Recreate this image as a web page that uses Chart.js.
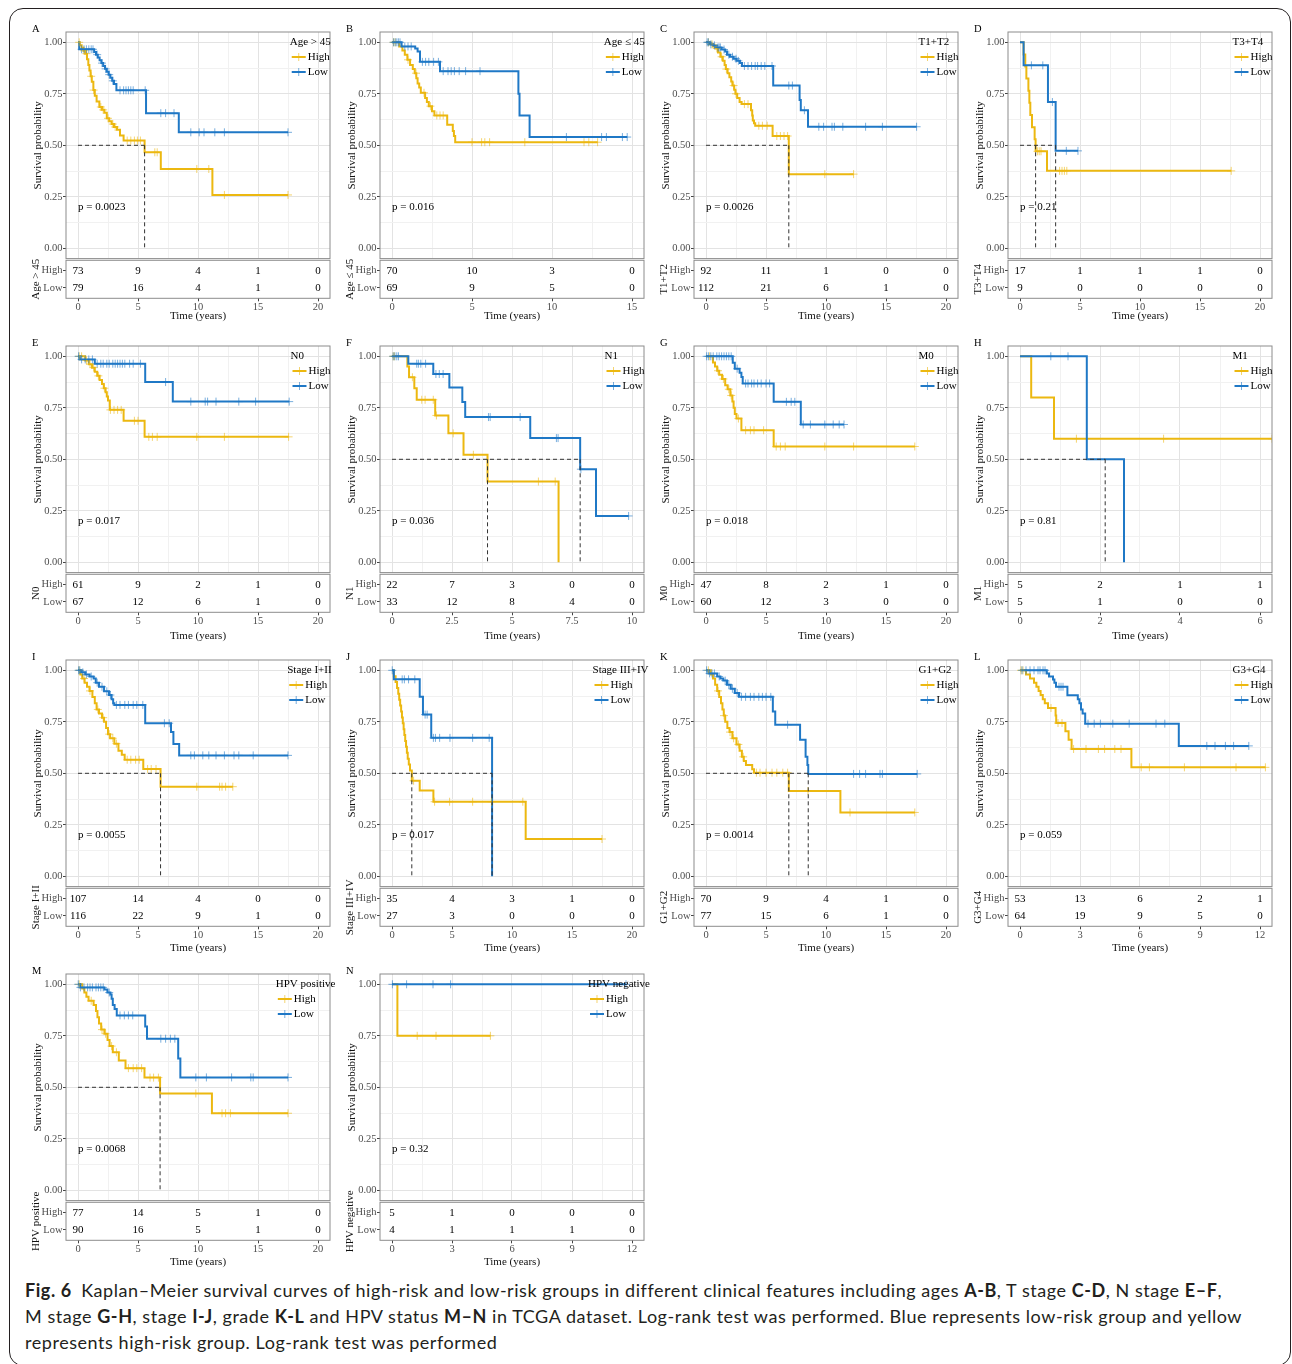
<!DOCTYPE html>
<html>
<head>
<meta charset="utf-8">
<script src="https://cdn.jsdelivr.net/npm/chart.js@4.4.1/dist/chart.umd.min.js"></script>
<style>
  html, body { margin: 0; padding: 0; background: #fff; width: 1292px; height: 1364px; overflow: hidden; }
  #frame { position: absolute; left: 9px; top: 8px; width: 1282px; height: 1358px; border: 1.3px solid #231f20; border-radius: 14px; box-sizing: border-box; }
  canvas { position: absolute; }
  .cap { position: absolute; left: 25px; height: 26px; line-height: 26px; font-family: Lato, 'Open Sans', sans-serif; font-size: 18px; color: #231f20; white-space: nowrap; }
  .cap b { font-weight: 700; }
</style>
</head>
<body>
<div id="frame"></div>
<div id="charts"></div>
<div class="cap" id="cap1" style="top:1277px"><b>Fig. 6</b>&ensp;Kaplan–Meier survival curves of high-risk and low-risk groups in different clinical features including ages <b>A-B</b>, T stage <b>C-D</b>, N stage <b>E–F</b>,</div>
<div class="cap" id="cap2" style="top:1303px">M stage <b>G-H</b>, stage <b>I-J</b>, grade <b>K-L</b> and HPV status <b>M–N</b> in TCGA dataset. Log-rank test was performed. Blue represents low-risk group and yellow</div>
<div class="cap" id="cap3" style="top:1329px">represents high-risk group. Log-rank test was performed</div>

<script>
// ---------- risk groups ----------
const GROUP_NAMES = ['High', 'Low'];

// ---------- A: Age > 45 ----------
const A_group = 'Age > 45';
const A_pval = 'p = 0.0023';
const A_breaks = [0, 5, 10, 15, 20];
const A_risk_high = [73, 9, 4, 1, 0];
const A_risk_low = [79, 16, 4, 1, 0];
const A_high_t = [0, 0.15, 0.3, 0.45, 0.6, 0.75, 0.86, 0.95, 1.05, 1.15, 1.28, 1.4, 1.55, 1.78, 2.0, 2.2, 2.4, 2.6, 2.8, 3.0, 3.25, 3.5, 3.8, 5.55, 6.9, 11.2];
const A_high_s = [1, 0.986, 0.973, 0.959, 0.945, 0.918, 0.890, 0.863, 0.835, 0.808, 0.768, 0.740, 0.713, 0.686, 0.672, 0.658, 0.631, 0.617, 0.603, 0.589, 0.575, 0.547, 0.523, 0.466, 0.385, 0.259];
const A_high_c = [0.1, 0.5, 0.7, 1.1, 1.3, 1.9, 2.1, 2.5, 2.9, 3.1, 4.1, 4.4, 4.7, 4.95, 5.2, 6.4, 6.6, 9.9, 10.9, 12.2, 17.5];
const A_low_t = [0, 0.1, 1.35, 1.5, 1.65, 1.8, 1.95, 2.1, 2.25, 2.4, 2.55, 2.7, 2.85, 3.0, 3.2, 5.67, 8.4];
const A_low_s = [1, 0.966, 0.953, 0.94, 0.926, 0.913, 0.899, 0.885, 0.871, 0.857, 0.843, 0.828, 0.813, 0.798, 0.767, 0.656, 0.563];
const A_low_c = [0.3, 0.5, 0.7, 0.9, 1.1, 1.25, 1.6, 2.0, 2.3, 2.6, 2.9, 3.5, 3.8, 4.0, 4.2, 4.4, 4.6, 5.6, 6.9, 7.3, 8.0, 9.4, 10.1, 10.5, 11.4, 12.2, 17.5];
const A_medians = [5.55];

// ---------- B: Age <= 45 ----------
const B_group = 'Age ≤ 45';
const B_pval = 'p = 0.016';
const B_breaks = [0, 5, 10, 15];
const B_risk_high = [70, 10, 3, 0];
const B_risk_low = [69, 9, 5, 0];
const B_high_t = [0, 0.45, 0.65, 0.8, 0.96, 1.13, 1.3, 1.42, 1.52, 1.6, 1.7, 1.8, 2.07, 2.18, 2.3, 2.5, 2.65, 3.45, 3.8, 3.87, 3.95];
const B_high_s = [1, 0.98, 0.96, 0.94, 0.915, 0.89, 0.87, 0.85, 0.825, 0.80, 0.78, 0.755, 0.73, 0.71, 0.69, 0.665, 0.645, 0.60, 0.57, 0.545, 0.515];
const B_high_c = [0.1, 0.2, 1.0, 1.5, 2.0, 2.4, 2.8, 3.0, 3.2, 5.0, 5.6, 5.8, 6.1, 8.3, 12.0, 12.3, 12.85];
const B_low_t = [0, 0.6, 1.45, 1.6, 1.75, 3.0, 7.9, 7.97, 8.6];
const B_low_s = [1, 0.98, 0.97, 0.955, 0.905, 0.86, 0.75, 0.645, 0.54];
const B_low_c = [0.1, 0.2, 0.3, 0.4, 0.5, 0.8, 1.0, 1.2, 1.9, 2.1, 2.3, 2.6, 2.9, 3.2, 3.5, 3.7, 3.9, 4.2, 4.6, 5.5, 10.9, 13.1, 13.4, 14.4, 14.7];
const B_medians = [];

// ---------- C: T1+T2 ----------
const C_group = 'T1+T2';
const C_pval = 'p = 0.0026';
const C_breaks = [0, 5, 10, 15, 20];
const C_risk_high = [92, 11, 1, 0, 0];
const C_risk_low = [112, 21, 6, 1, 0];
const C_high_t = [0, 0.3, 0.6, 0.8, 1.0, 1.2, 1.4, 1.55, 1.65, 1.8, 1.95, 2.1, 2.2, 2.35, 2.45, 2.6, 2.8, 2.97, 3.75, 3.85, 3.9, 4.0, 4.1, 5.55, 6.9];
const C_high_s = [1, 0.99, 0.98, 0.97, 0.95, 0.93, 0.91, 0.89, 0.87, 0.85, 0.83, 0.81, 0.79, 0.77, 0.75, 0.73, 0.71, 0.70, 0.67, 0.645, 0.62, 0.607, 0.595, 0.545, 0.36];
const C_high_c = [0.2, 0.5, 0.9, 1.3, 1.7, 2.3, 2.5, 3.2, 3.5, 4.4, 4.7, 5.1, 5.9, 6.2, 6.5, 6.8, 9.9, 12.3];
const C_low_t = [0, 0.3, 0.6, 0.9, 1.3, 1.6, 1.75, 2.0, 2.3, 2.55, 2.83, 3.0, 5.6, 7.8, 7.9, 8.5];
const C_low_s = [1, 0.99, 0.985, 0.975, 0.965, 0.955, 0.94, 0.93, 0.92, 0.91, 0.90, 0.885, 0.79, 0.72, 0.67, 0.59];
const C_low_c = [0.1, 0.2, 0.4, 0.7, 1.0, 1.1, 1.2, 1.5, 1.9, 2.2, 2.5, 2.7, 3.2, 3.5, 3.8, 4.1, 4.3, 4.6, 4.9, 5.5, 6.9, 7.2, 8.2, 9.4, 9.8, 10.5, 10.7, 11.4, 13.3, 14.7, 17.55];
const C_medians = [6.9];

// ---------- D: T3+T4 ----------
const D_group = 'T3+T4';
const D_pval = 'p = 0.21';
const D_breaks = [0, 5, 10, 15, 20];
const D_risk_high = [17, 1, 1, 1, 0];
const D_risk_low = [9, 0, 0, 0, 0];
const D_high_t = [0, 0.3, 0.44, 0.53, 0.7, 0.78, 0.86, 1.0, 1.22, 1.3, 2.25];
const D_high_s = [1, 0.941, 0.882, 0.824, 0.765, 0.706, 0.647, 0.588, 0.529, 0.471, 0.376];
const D_high_c = [1.45, 1.6, 1.75, 3.3, 3.5, 3.7, 3.9, 17.6];
const D_low_t = [0, 0.3, 2.33, 2.97];
const D_low_s = [1, 0.888, 0.71, 0.473];
const D_low_c = [0.95, 1.9, 2.7, 3.86, 4.83];
const D_medians = [1.3, 2.97];

// ---------- E: N0 ----------
const E_group = 'N0';
const E_pval = 'p = 0.017';
const E_breaks = [0, 5, 10, 15, 20];
const E_risk_high = [61, 9, 2, 1, 0];
const E_risk_low = [67, 12, 6, 1, 0];
const E_high_t = [0, 0.6, 0.9, 1.17, 1.4, 1.6, 1.8, 2.0, 2.15, 2.3, 2.4, 2.5, 2.65, 3.8, 5.55];
const E_high_s = [1, 0.98, 0.962, 0.945, 0.925, 0.905, 0.885, 0.865, 0.845, 0.825, 0.805, 0.785, 0.74, 0.687, 0.609];
const E_high_c = [0.1, 0.3, 0.7, 1.0, 1.3, 1.7, 2.2, 2.7, 3.0, 3.3, 3.6, 4.7, 5.0, 5.9, 6.2, 6.6, 9.9, 12.2, 17.55];
const E_low_t = [0, 0.15, 1.4, 5.6, 7.9];
const E_low_s = [1, 0.985, 0.964, 0.875, 0.78];
const E_low_c = [0.05, 0.3, 0.6, 0.9, 1.2, 1.6, 1.9, 2.1, 2.4, 2.6, 2.9, 3.1, 3.3, 3.5, 3.7, 3.9, 4.3, 4.6, 5.2, 7.3, 9.4, 10.6, 10.8, 11.5, 13.4, 14.8, 17.6];
const E_medians = [];

// ---------- F: N1 ----------
const F_group = 'N1';
const F_pval = 'p = 0.036';
const F_breaks = [0, 2.5, 5, 7.5, 10];
const F_risk_high = [22, 7, 3, 0, 0];
const F_risk_low = [33, 12, 8, 4, 0];
const F_high_t = [0, 0.64, 0.71, 0.93, 1.03, 1.8, 2.35, 2.98, 3.98, 6.94];
const F_high_s = [1, 0.951, 0.898, 0.845, 0.789, 0.713, 0.626, 0.522, 0.392, 0];
const F_high_c = [0.05, 0.1, 0.85, 1.24, 1.38, 1.72, 1.85, 2.55, 3.39, 6.1, 6.8];
const F_low_t = [0, 0.68, 1.72, 2.39, 2.93, 3.05, 5.76, 7.84, 8.5];
const F_low_s = [1, 0.964, 0.914, 0.848, 0.778, 0.705, 0.603, 0.452, 0.225];
const F_low_c = [0.05, 0.12, 0.2, 0.27, 1.03, 1.1, 1.2, 1.4, 1.83, 1.97, 2.13, 4.02, 4.09, 5.34, 6.85, 6.92, 7.87, 9.86];
const F_medians = [3.98, 7.84];

// ---------- G: M0 ----------
const G_group = 'M0';
const G_pval = 'p = 0.018';
const G_breaks = [0, 5, 10, 15, 20];
const G_risk_high = [47, 8, 2, 1, 0];
const G_risk_low = [60, 12, 3, 0, 0];
const G_high_t = [0, 0.58, 0.75, 0.93, 1.1, 1.34, 1.6, 1.8, 2.03, 2.2, 2.3, 2.4, 2.54, 2.95, 5.64];
const G_high_s = [1, 0.97, 0.95, 0.93, 0.91, 0.89, 0.86, 0.84, 0.81, 0.78, 0.75, 0.72, 0.698, 0.641, 0.562];
const G_high_c = [0.3, 1.0, 1.45, 1.9, 2.1, 2.7, 3.3, 3.7, 4.0, 4.8, 5.85, 6.2, 6.6, 9.9, 12.3, 17.4];
const G_low_t = [0, 2.23, 2.4, 2.8, 2.95, 3.06, 5.64, 7.9];
const G_low_s = [1, 0.969, 0.94, 0.92, 0.90, 0.868, 0.779, 0.669];
const G_low_c = [0.05, 0.2, 0.4, 0.6, 0.9, 1.1, 1.3, 1.5, 1.7, 1.9, 2.1, 2.6, 3.3, 3.5, 3.8, 4.0, 4.3, 4.6, 5.0, 5.3, 6.7, 7.1, 7.4, 8.1, 8.7, 9.9, 10.6, 11.1, 11.5];
const G_medians = [];

// ---------- H: M1 ----------
const H_group = 'M1';
const H_pval = 'p = 0.81';
const H_breaks = [0, 2, 4, 6];
const H_risk_high = [5, 2, 1, 1];
const H_risk_low = [5, 1, 0, 0];
const H_high_t = [0, 0.28, 0.85];
const H_high_s = [1, 0.8, 0.6];
const H_high_c = [1.41, 3.59, 6.3];
const H_low_t = [0, 1.67, 2.6];
const H_low_s = [1, 0.5, 0];
const H_low_c = [0.77, 1.2];
const H_medians = [2.13];

// ---------- I: Stage I+II ----------
const I_group = 'Stage I+II';
const I_pval = 'p = 0.0055';
const I_breaks = [0, 5, 10, 15, 20];
const I_risk_high = [107, 14, 4, 0, 0];
const I_risk_low = [116, 22, 9, 1, 0];
const I_high_t = [0, 0.2, 0.35, 0.55, 0.75, 0.96, 1.2, 1.4, 1.55, 1.75, 2.0, 2.17, 2.34, 2.5, 2.68, 3.03, 3.37, 3.65, 3.89, 5.44, 6.88];
const I_high_s = [1, 0.98, 0.96, 0.94, 0.92, 0.90, 0.87, 0.84, 0.81, 0.79, 0.77, 0.75, 0.72, 0.69, 0.67, 0.644, 0.61, 0.59, 0.566, 0.521, 0.435];
const I_high_c = [0.1, 0.5, 1.0, 1.65, 2.1, 2.6, 2.9, 3.2, 4.1, 4.4, 4.8, 5.1, 5.8, 6.1, 6.5, 9.9, 11.8, 12.0, 12.3, 12.9];
const I_low_t = [0, 0.28, 0.6, 0.96, 1.3, 1.48, 1.75, 2.17, 2.58, 2.8, 2.93, 3.03, 5.6, 7.75, 7.95, 8.43];
const I_low_s = [1, 0.99, 0.98, 0.97, 0.96, 0.94, 0.92, 0.898, 0.88, 0.86, 0.84, 0.832, 0.743, 0.70, 0.642, 0.587];
const I_low_c = [0.05, 0.15, 0.4, 0.7, 1.1, 1.6, 2.0, 2.4, 2.7, 3.2, 3.5, 3.9, 4.2, 4.6, 4.9, 5.4, 7.2, 7.6, 9.4, 9.7, 10.4, 10.9, 11.5, 12.2, 13.0, 13.4, 14.6, 17.5];
const I_medians = [6.88];

// ---------- J: Stage III+IV ----------
const J_group = 'Stage III+IV';
const J_pval = 'p = 0.017';
const J_breaks = [0, 5, 10, 15, 20];
const J_risk_high = [35, 4, 3, 1, 0];
const J_risk_low = [27, 3, 0, 0, 0];
const J_high_t = [0, 0.15, 0.3, 0.42, 0.52, 0.6, 0.68, 0.76, 0.83, 0.9, 0.97, 1.03, 1.1, 1.17, 1.24, 1.31, 1.4, 1.5, 1.65, 2.31, 3.45, 11.14];
const J_high_s = [1, 0.971, 0.943, 0.914, 0.886, 0.857, 0.829, 0.80, 0.771, 0.743, 0.714, 0.686, 0.657, 0.629, 0.60, 0.571, 0.543, 0.514, 0.464, 0.416, 0.362, 0.181];
const J_high_c = [1.8, 3.55, 4.8, 6.72, 8.3, 10.9, 17.5];
const J_low_t = [0, 0.15, 2.31, 2.58, 3.27, 8.34];
const J_low_s = [1, 0.956, 0.871, 0.785, 0.672, 0];
const J_low_c = [0.02, 0.85, 1.03, 1.38, 1.9, 2.76, 2.93, 3.45, 3.62, 3.97, 4.83, 6.72, 8.1];
const J_medians = [1.65, 8.34];

// ---------- K: G1+G2 ----------
const K_group = 'G1+G2';
const K_pval = 'p = 0.0014';
const K_breaks = [0, 5, 10, 15, 20];
const K_risk_high = [70, 9, 4, 1, 0];
const K_risk_low = [77, 15, 6, 1, 0];
const K_high_t = [0, 0.4, 0.58, 0.76, 0.93, 1.1, 1.25, 1.37, 1.48, 1.6, 1.78, 1.96, 2.2, 2.54, 2.8, 2.99, 3.15, 3.33, 3.85, 4.0, 6.9, 11.2];
const K_high_s = [1, 0.98, 0.96, 0.93, 0.90, 0.87, 0.84, 0.81, 0.78, 0.75, 0.72, 0.70, 0.67, 0.64, 0.61, 0.58, 0.56, 0.54, 0.52, 0.503, 0.414, 0.31];
const K_high_c = [0.2, 1.0, 1.5, 2.0, 2.3, 2.7, 3.1, 4.2, 4.5, 5.0, 5.5, 5.9, 6.4, 6.8, 8.5, 12.0, 17.4];
const K_low_t = [0, 0.2, 0.93, 1.2, 1.44, 1.75, 2.06, 2.4, 2.75, 5.57, 5.77, 7.84, 8.3, 8.45, 8.52];
const K_low_s = [1, 0.985, 0.97, 0.96, 0.95, 0.93, 0.91, 0.89, 0.871, 0.80, 0.736, 0.663, 0.58, 0.54, 0.497];
const K_low_c = [0.05, 0.3, 0.5, 0.7, 1.1, 1.6, 1.9, 2.2, 2.6, 2.95, 3.3, 3.7, 4.0, 4.4, 4.7, 5.0, 5.4, 6.8, 12.3, 12.8, 13.3, 14.5, 14.7, 17.6];
const K_medians = [6.9, 8.52];

// ---------- L: G3+G4 ----------
const L_group = 'G3+G4';
const L_pval = 'p = 0.059';
const L_breaks = [0, 3, 6, 9, 12];
const L_risk_high = [53, 13, 6, 2, 1];
const L_risk_low = [64, 19, 9, 5, 0];
const L_high_t = [0, 0.3, 0.5, 0.7, 0.82, 0.93, 1.03, 1.14, 1.24, 1.4, 1.78, 1.81, 2.27, 2.43, 2.58, 5.57];
const L_high_s = [1, 0.98, 0.96, 0.94, 0.92, 0.90, 0.88, 0.86, 0.84, 0.817, 0.78, 0.744, 0.704, 0.663, 0.618, 0.529];
const L_high_c = [0.05, 0.15, 1.55, 1.9, 2.1, 2.68, 3.3, 3.92, 4.23, 4.74, 5.05, 6.06, 6.47, 8.22, 10.8, 12.27];
const L_low_t = [0, 1.34, 1.45, 1.65, 1.72, 1.8, 2.37, 2.89, 2.97, 3.05, 3.13, 3.26, 7.94];
const L_low_s = [1, 0.985, 0.97, 0.955, 0.94, 0.92, 0.879, 0.86, 0.84, 0.81, 0.79, 0.741, 0.633];
const L_low_c = [0.1, 0.3, 0.5, 0.7, 0.9, 1.0, 1.15, 1.25, 1.95, 2.05, 2.15, 3.4, 3.71, 4.02, 4.64, 5.46, 6.8, 7.24, 9.34, 9.75, 10.27, 10.68, 11.44];
const L_medians = [];

// ---------- M: HPV positive ----------
const M_group = 'HPV positive';
const M_pval = 'p = 0.0068';
const M_breaks = [0, 5, 10, 15, 20];
const M_risk_high = [77, 14, 5, 1, 0];
const M_risk_low = [90, 16, 5, 1, 0];
const M_high_t = [0, 0.35, 0.53, 0.7, 0.88, 1.3, 1.5, 1.62, 1.75, 1.93, 2.2, 2.46, 2.63, 2.9, 3.4, 3.96, 5.54, 6.84, 11.16];
const M_high_s = [1, 0.98, 0.96, 0.94, 0.92, 0.90, 0.87, 0.84, 0.81, 0.78, 0.76, 0.73, 0.70, 0.67, 0.63, 0.593, 0.547, 0.47, 0.374];
const M_high_c = [0.1, 1.1, 2.0, 2.3, 2.8, 3.2, 4.2, 4.6, 4.9, 5.3, 6.0, 6.3, 6.7, 9.82, 12.0, 12.3, 12.7, 17.5];
const M_low_t = [0, 0.18, 2.2, 2.45, 2.7, 2.8, 2.9, 3.05, 3.23, 5.6, 5.75, 8.35, 8.53];
const M_low_s = [1, 0.985, 0.975, 0.96, 0.95, 0.93, 0.90, 0.88, 0.849, 0.795, 0.736, 0.64, 0.548];
const M_low_c = [0.02, 0.2, 0.5, 0.8, 1.0, 1.2, 1.5, 1.7, 1.9, 2.1, 2.6, 3.5, 3.86, 4.2, 4.56, 6.9, 7.3, 7.7, 8.07, 9.82, 10.7, 12.8, 14.4, 14.6, 17.5];
const M_medians = [6.84];

// ---------- N: HPV negative ----------
const N_group = 'HPV negative';
const N_pval = 'p = 0.32';
const N_breaks = [0, 3, 6, 9, 12];
const N_risk_high = [5, 1, 0, 0, 0];
const N_risk_low = [4, 1, 1, 1, 0];
const N_high_t = [0, 0.27];
const N_high_s = [1, 0.75];
const N_high_c = [1.26, 2.2, 4.92];
const N_low_t = [0];
const N_low_s = [1];
const N_low_c = [0.02, 0.73, 2.05, 2.93, 11.7];
const N_medians = [];

// ---------- assemble panels (reading order) ----------
function P(id, group, pval, breaks, rh, rl, ht, hs, hc, lt, ls, lc, med) {
  return { id, group, pval, breaks, riskHigh: rh, riskLow: rl,
           high: { t: ht, s: hs, c: hc }, low: { t: lt, s: ls, c: lc }, medians: med };
}
const PANELS = [
  P('A', A_group, A_pval, A_breaks, A_risk_high, A_risk_low, A_high_t, A_high_s, A_high_c, A_low_t, A_low_s, A_low_c, A_medians),
  P('B', B_group, B_pval, B_breaks, B_risk_high, B_risk_low, B_high_t, B_high_s, B_high_c, B_low_t, B_low_s, B_low_c, B_medians),
  P('C', C_group, C_pval, C_breaks, C_risk_high, C_risk_low, C_high_t, C_high_s, C_high_c, C_low_t, C_low_s, C_low_c, C_medians),
  P('D', D_group, D_pval, D_breaks, D_risk_high, D_risk_low, D_high_t, D_high_s, D_high_c, D_low_t, D_low_s, D_low_c, D_medians),
  P('E', E_group, E_pval, E_breaks, E_risk_high, E_risk_low, E_high_t, E_high_s, E_high_c, E_low_t, E_low_s, E_low_c, E_medians),
  P('F', F_group, F_pval, F_breaks, F_risk_high, F_risk_low, F_high_t, F_high_s, F_high_c, F_low_t, F_low_s, F_low_c, F_medians),
  P('G', G_group, G_pval, G_breaks, G_risk_high, G_risk_low, G_high_t, G_high_s, G_high_c, G_low_t, G_low_s, G_low_c, G_medians),
  P('H', H_group, H_pval, H_breaks, H_risk_high, H_risk_low, H_high_t, H_high_s, H_high_c, H_low_t, H_low_s, H_low_c, H_medians),
  P('I', I_group, I_pval, I_breaks, I_risk_high, I_risk_low, I_high_t, I_high_s, I_high_c, I_low_t, I_low_s, I_low_c, I_medians),
  P('J', J_group, J_pval, J_breaks, J_risk_high, J_risk_low, J_high_t, J_high_s, J_high_c, J_low_t, J_low_s, J_low_c, J_medians),
  P('K', K_group, K_pval, K_breaks, K_risk_high, K_risk_low, K_high_t, K_high_s, K_high_c, K_low_t, K_low_s, K_low_c, K_medians),
  P('L', L_group, L_pval, L_breaks, L_risk_high, L_risk_low, L_high_t, L_high_s, L_high_c, L_low_t, L_low_s, L_low_c, L_medians),
  P('M', M_group, M_pval, M_breaks, M_risk_high, M_risk_low, M_high_t, M_high_s, M_high_c, M_low_t, M_low_s, M_low_c, M_medians),
  P('N', N_group, N_pval, N_breaks, N_risk_high, N_risk_low, N_high_t, N_high_s, N_high_c, N_low_t, N_low_s, N_low_c, N_medians)
];

// ---------- styling and layout ----------
const SERIF = "'Liberation Serif', 'Times New Roman', serif";
const COL_HIGH = '#ECB810';
const COL_LOW = '#1F78C6';
const CENS_HIGH = 'rgba(236,184,16,0.6)';
const CENS_LOW = 'rgba(31,120,198,0.6)';
const GRID_MAJOR = '#E3E3E3';
const GRID_MINOR = '#F1F1F1';
const FRAME_COL = '#8C8C8C';
const TICK_TXT = '#4D4D4D';

const U = 206;                       // pixels per 1.0 of survival
const ROW_ZERO = [248.3, 562.3, 876.3, 1190.3];
const ROW_TITLE = [316, 636.5, 948, 1262];
const COL_STEP = 314, AXIS_W = 66, PLOT_W = 264, RIGHT_PAD = 14;
const TABLE_H = 38;

function survAt(curve, t) {
  let s = curve.s[0];
  for (let i = 0; i < curve.t.length; i++) if (curve.t[i] <= t) s = curve.s[i];
  return s;
}
function curvePoints(curve) {
  const pts = curve.t.map((t, i) => ({ x: t, y: curve.s[i] }));
  const lastT = curve.t[curve.t.length - 1];
  const end = Math.max(lastT, ...curve.c);
  if (end > lastT) pts.push({ x: end, y: curve.s[curve.s.length - 1] });
  return pts;
}
function censorPoints(curve) {
  return curve.c.map(t => ({ x: t, y: survAt(curve, t) }));
}
function withMidpoints(vals) {
  const out = [];
  vals.forEach((v, i) => { out.push(v); if (i < vals.length - 1) out.push((v + vals[i + 1]) / 2); });
  return out;
}

// plot frame, panel letter, p-value and legend
const kmDecor = {
  id: 'kmDecor',
  afterDatasetsDraw(chart) {
    const a = chart.chartArea, ctx = chart.ctx;
    ctx.save();
    ctx.strokeStyle = FRAME_COL; ctx.lineWidth = 1;
    ctx.strokeRect(a.left, a.top, a.right - a.left, a.bottom - a.top);
    ctx.restore();
  },
  afterDraw(chart, args, o) {
    const a = chart.chartArea, ctx = chart.ctx;
    const xs = chart.scales.x, ys = chart.scales.y;
    ctx.save();
    ctx.fillStyle = '#000';
    ctx.textBaseline = 'middle';
    ctx.textAlign = 'left';
    ctx.font = `10.5px ${SERIF}`;
    ctx.fillText(o.letter, 32, a.top - 3);
    ctx.font = `11px ${SERIF}`;
    ctx.fillText(o.pval, xs.getPixelForValue(0), ys.getPixelForValue(0.2));
    // legend
    const titleW = ctx.measureText(o.group).width;
    const itemW = 18 + Math.max(...GROUP_NAMES.map(g => ctx.measureText(g).width));
    const w = Math.max(titleW, itemW);
    const lx = a.right - 9.5 - 0.75 * w;
    ctx.fillText(o.group, lx, a.top + 10);
    const items = [
      { name: GROUP_NAMES[0], col: COL_HIGH, cens: CENS_HIGH, y: a.top + 25 },
      { name: GROUP_NAMES[1], col: COL_LOW, cens: CENS_LOW, y: a.top + 40 }
    ];
    items.forEach(it => {
      ctx.strokeStyle = it.col; ctx.lineWidth = 2;
      ctx.beginPath(); ctx.moveTo(lx + 2, it.y); ctx.lineTo(lx + 16, it.y); ctx.stroke();
      ctx.strokeStyle = it.cens; ctx.lineWidth = 1;
      ctx.beginPath(); ctx.moveTo(lx + 9, it.y - 4); ctx.lineTo(lx + 9, it.y + 4); ctx.stroke();
      ctx.fillStyle = '#000';
      ctx.fillText(it.name, lx + 18, it.y);
    });
    ctx.restore();
  }
};

// number-at-risk values and table frame
const riskDecor = {
  id: 'riskDecor',
  afterDraw(chart, args, o) {
    const a = chart.chartArea, ctx = chart.ctx;
    const xs = chart.scales.x, ys = chart.scales.y;
    ctx.save();
    ctx.strokeStyle = FRAME_COL; ctx.lineWidth = 1;
    ctx.strokeRect(a.left, a.top, a.right - a.left, a.bottom - a.top);
    ctx.fillStyle = '#000';
    ctx.font = `11px ${SERIF}`;
    ctx.textAlign = 'center'; ctx.textBaseline = 'middle';
    o.breaks.forEach((b, i) => {
      ctx.fillText(String(o.high[i]), xs.getPixelForValue(b), ys.getPixelForValue(2));
      ctx.fillText(String(o.low[i]), xs.getPixelForValue(b), ys.getPixelForValue(1));
    });
    ctx.restore();
  }
};

function makeCanvas(left, top, w, h) {
  const c = document.createElement('canvas');
  c.width = w; c.height = h;
  c.style.left = left + 'px'; c.style.top = top + 'px';
  c.style.width = w + 'px'; c.style.height = h + 'px';
  document.getElementById('charts').appendChild(c);
  return c;
}

function buildPanel(p, idx) {
  const col = idx % 4, row = Math.floor(idx / 4);
  const left = col * COL_STEP;
  const R = p.breaks[p.breaks.length - 1];
  const xmin = -0.05 * R, xmax = 1.05 * R;
  const cw = AXIS_W + PLOT_W + RIGHT_PAD;

  // --- survival plot ---
  const plotH = 1.1 * U;
  const plotTop = ROW_ZERO[row] - 1.05 * U;
  const kmTop = Math.round(plotTop) - 16;
  const padTop = plotTop - kmTop;
  const kmH = 252;
  const padBottom = kmH - padTop - plotH;   // keeps room for the half-height of the 0.00 label
  const xGrid = withMidpoints(p.breaks);
  const yGrid = withMidpoints([0, 0.25, 0.5, 0.75, 1]);
  const yMajor = v => Math.abs(v * 4 - Math.round(v * 4)) < 1e-6;
  const xMajor = v => p.breaks.some(b => Math.abs(b - v) < 1e-6);

  const datasets = [];
  if (p.medians.length) {
    const mMax = Math.max(...p.medians);
    datasets.push({ data: [{ x: 0, y: 0.5 }, { x: mMax, y: 0.5 }], borderColor: '#333', borderWidth: 1, borderDash: [4, 3], pointRadius: 0, order: 0 });
    p.medians.forEach(m => datasets.push({ data: [{ x: m, y: 0.5 }, { x: m, y: 0 }], borderColor: '#333', borderWidth: 1, borderDash: [4, 3], pointRadius: 0, order: 0 }));
  }
  datasets.push({ data: censorPoints(p.low), showLine: false, pointStyle: 'cross', pointRadius: 4, pointBorderWidth: 1, pointBorderColor: CENS_LOW, pointBackgroundColor: CENS_LOW, order: 1 });
  datasets.push({ data: censorPoints(p.high), showLine: false, pointStyle: 'cross', pointRadius: 4, pointBorderWidth: 1, pointBorderColor: CENS_HIGH, pointBackgroundColor: CENS_HIGH, order: 1 });
  datasets.push({ data: curvePoints(p.low), stepped: true, borderColor: COL_LOW, borderWidth: 2, pointRadius: 0, fill: false, order: 2 });
  datasets.push({ data: curvePoints(p.high), stepped: true, borderColor: COL_HIGH, borderWidth: 2, pointRadius: 0, fill: false, order: 3 });

  new Chart(makeCanvas(left, kmTop, cw, kmH), {
    type: 'line',
    data: { datasets },
    options: {
      responsive: false, animation: false, events: [], devicePixelRatio: 1,
      layout: { padding: { top: padTop, bottom: padBottom, left: 0, right: RIGHT_PAD } },
      plugins: { legend: { display: false }, tooltip: { enabled: false },
                 kmDecor: { letter: p.id, pval: p.pval, group: p.group } },
      scales: {
        x: {
          type: 'linear', min: xmin, max: xmax,
          afterBuildTicks: s => { s.ticks = xGrid.map(v => ({ value: v })); },
          ticks: { display: false },
          grid: { color: c => xMajor(c.tick.value) ? GRID_MAJOR : GRID_MINOR, lineWidth: 1, drawTicks: false },
          border: { display: false },
          afterFit: s => { s.height = 0; }
        },
        y: {
          type: 'linear', min: -0.05, max: 1.05,
          afterBuildTicks: s => { s.ticks = yGrid.map(v => ({ value: v })); },
          ticks: { autoSkip: false, padding: 0.5, color: TICK_TXT, font: { family: SERIF, size: 10.5 },
                   callback: v => yMajor(v) ? v.toFixed(2) : '' },
          grid: { color: c => yMajor(c.tick.value) ? GRID_MAJOR : GRID_MINOR, lineWidth: 1,
                  tickLength: 3, tickColor: c => yMajor(c.tick.value) ? '#444' : 'rgba(0,0,0,0)' },
          border: { display: false },
          title: { display: true, text: 'Survival probability', color: '#111', font: { family: SERIF, size: 11 }, padding: { top: 31.4, bottom: 0 } },
          afterFit: s => { s.width = AXIS_W; }
        }
      }
    },
    plugins: [kmDecor]
  });

  // --- number-at-risk table ---
  const tableTop = ROW_ZERO[row] + 0.05 * U + 1.7;
  const rkTop = Math.round(tableTop) - 22;
  const rPadTop = tableTop - rkTop;
  const axisH = ROW_TITLE[row] + 9 - (tableTop + TABLE_H);
  const rkH = Math.ceil(rPadTop + TABLE_H + axisH) + 1;
  const rPadBottom = rkH - (rPadTop + TABLE_H + axisH);

  new Chart(makeCanvas(left, rkTop, cw, rkH), {
    type: 'line',
    data: { datasets: [] },
    options: {
      responsive: false, animation: false, events: [], devicePixelRatio: 1,
      layout: { padding: { top: rPadTop, bottom: rPadBottom, left: 0, right: RIGHT_PAD } },
      plugins: { legend: { display: false }, tooltip: { enabled: false },
                 riskDecor: { breaks: p.breaks, high: p.riskHigh, low: p.riskLow } },
      scales: {
        x: {
          type: 'linear', min: xmin, max: xmax,
          afterBuildTicks: s => { s.ticks = p.breaks.map(v => ({ value: v })); },
          ticks: { autoSkip: false, maxRotation: 0, padding: 0, color: TICK_TXT, font: { family: SERIF, size: 10.5 },
                   callback: v => String(v) },
          grid: { drawOnChartArea: false, drawTicks: true, tickLength: 3, tickColor: '#444' },
          border: { display: false },
          title: { display: true, text: 'Time (years)', color: '#111', font: { family: SERIF, size: 11 }, padding: { top: 0, bottom: 2.4 } },
          afterFit: s => { s.height = axisH; }
        },
        y: {
          type: 'linear', min: 0.4, max: 2.6,
          afterBuildTicks: s => { s.ticks = [{ value: 1 }, { value: 2 }]; },
          ticks: { autoSkip: false, padding: 0.5, color: TICK_TXT, font: { family: SERIF, size: 10.5 },
                   callback: v => v === 2 ? GROUP_NAMES[0] : GROUP_NAMES[1] },
          grid: { drawOnChartArea: false, drawTicks: true, tickLength: 3, tickColor: '#444' },
          border: { display: false },
          title: { display: true, text: p.group, color: '#111', font: { family: SERIF, size: 11 }, padding: { top: 29.4, bottom: 0 } },
          afterFit: s => { s.width = AXIS_W; }
        }
      }
    },
    plugins: [riskDecor]
  });
}

PANELS.forEach(buildPanel);

// caption: even out letter spacing so the three lines keep their set widths
(function fitCaption() {
  const ids = ['cap1', 'cap2', 'cap3'];
  const targets = [1197, 1213, 476];
  const els = ids.map(id => document.getElementById(id));
  const widths = els.map(e => e.getBoundingClientRect().width);
  const chars = els.map(e => e.textContent.length);
  const total = targets.reduce((s, v) => s + v, 0);
  const have = widths.reduce((s, v) => s + v, 0);
  const n = chars.reduce((s, v) => s + v, 0);
  const ls = (total - have) / n;
  els.forEach(e => { e.style.letterSpacing = ls.toFixed(3) + 'px'; });
})();
</script>
</body>
</html>
